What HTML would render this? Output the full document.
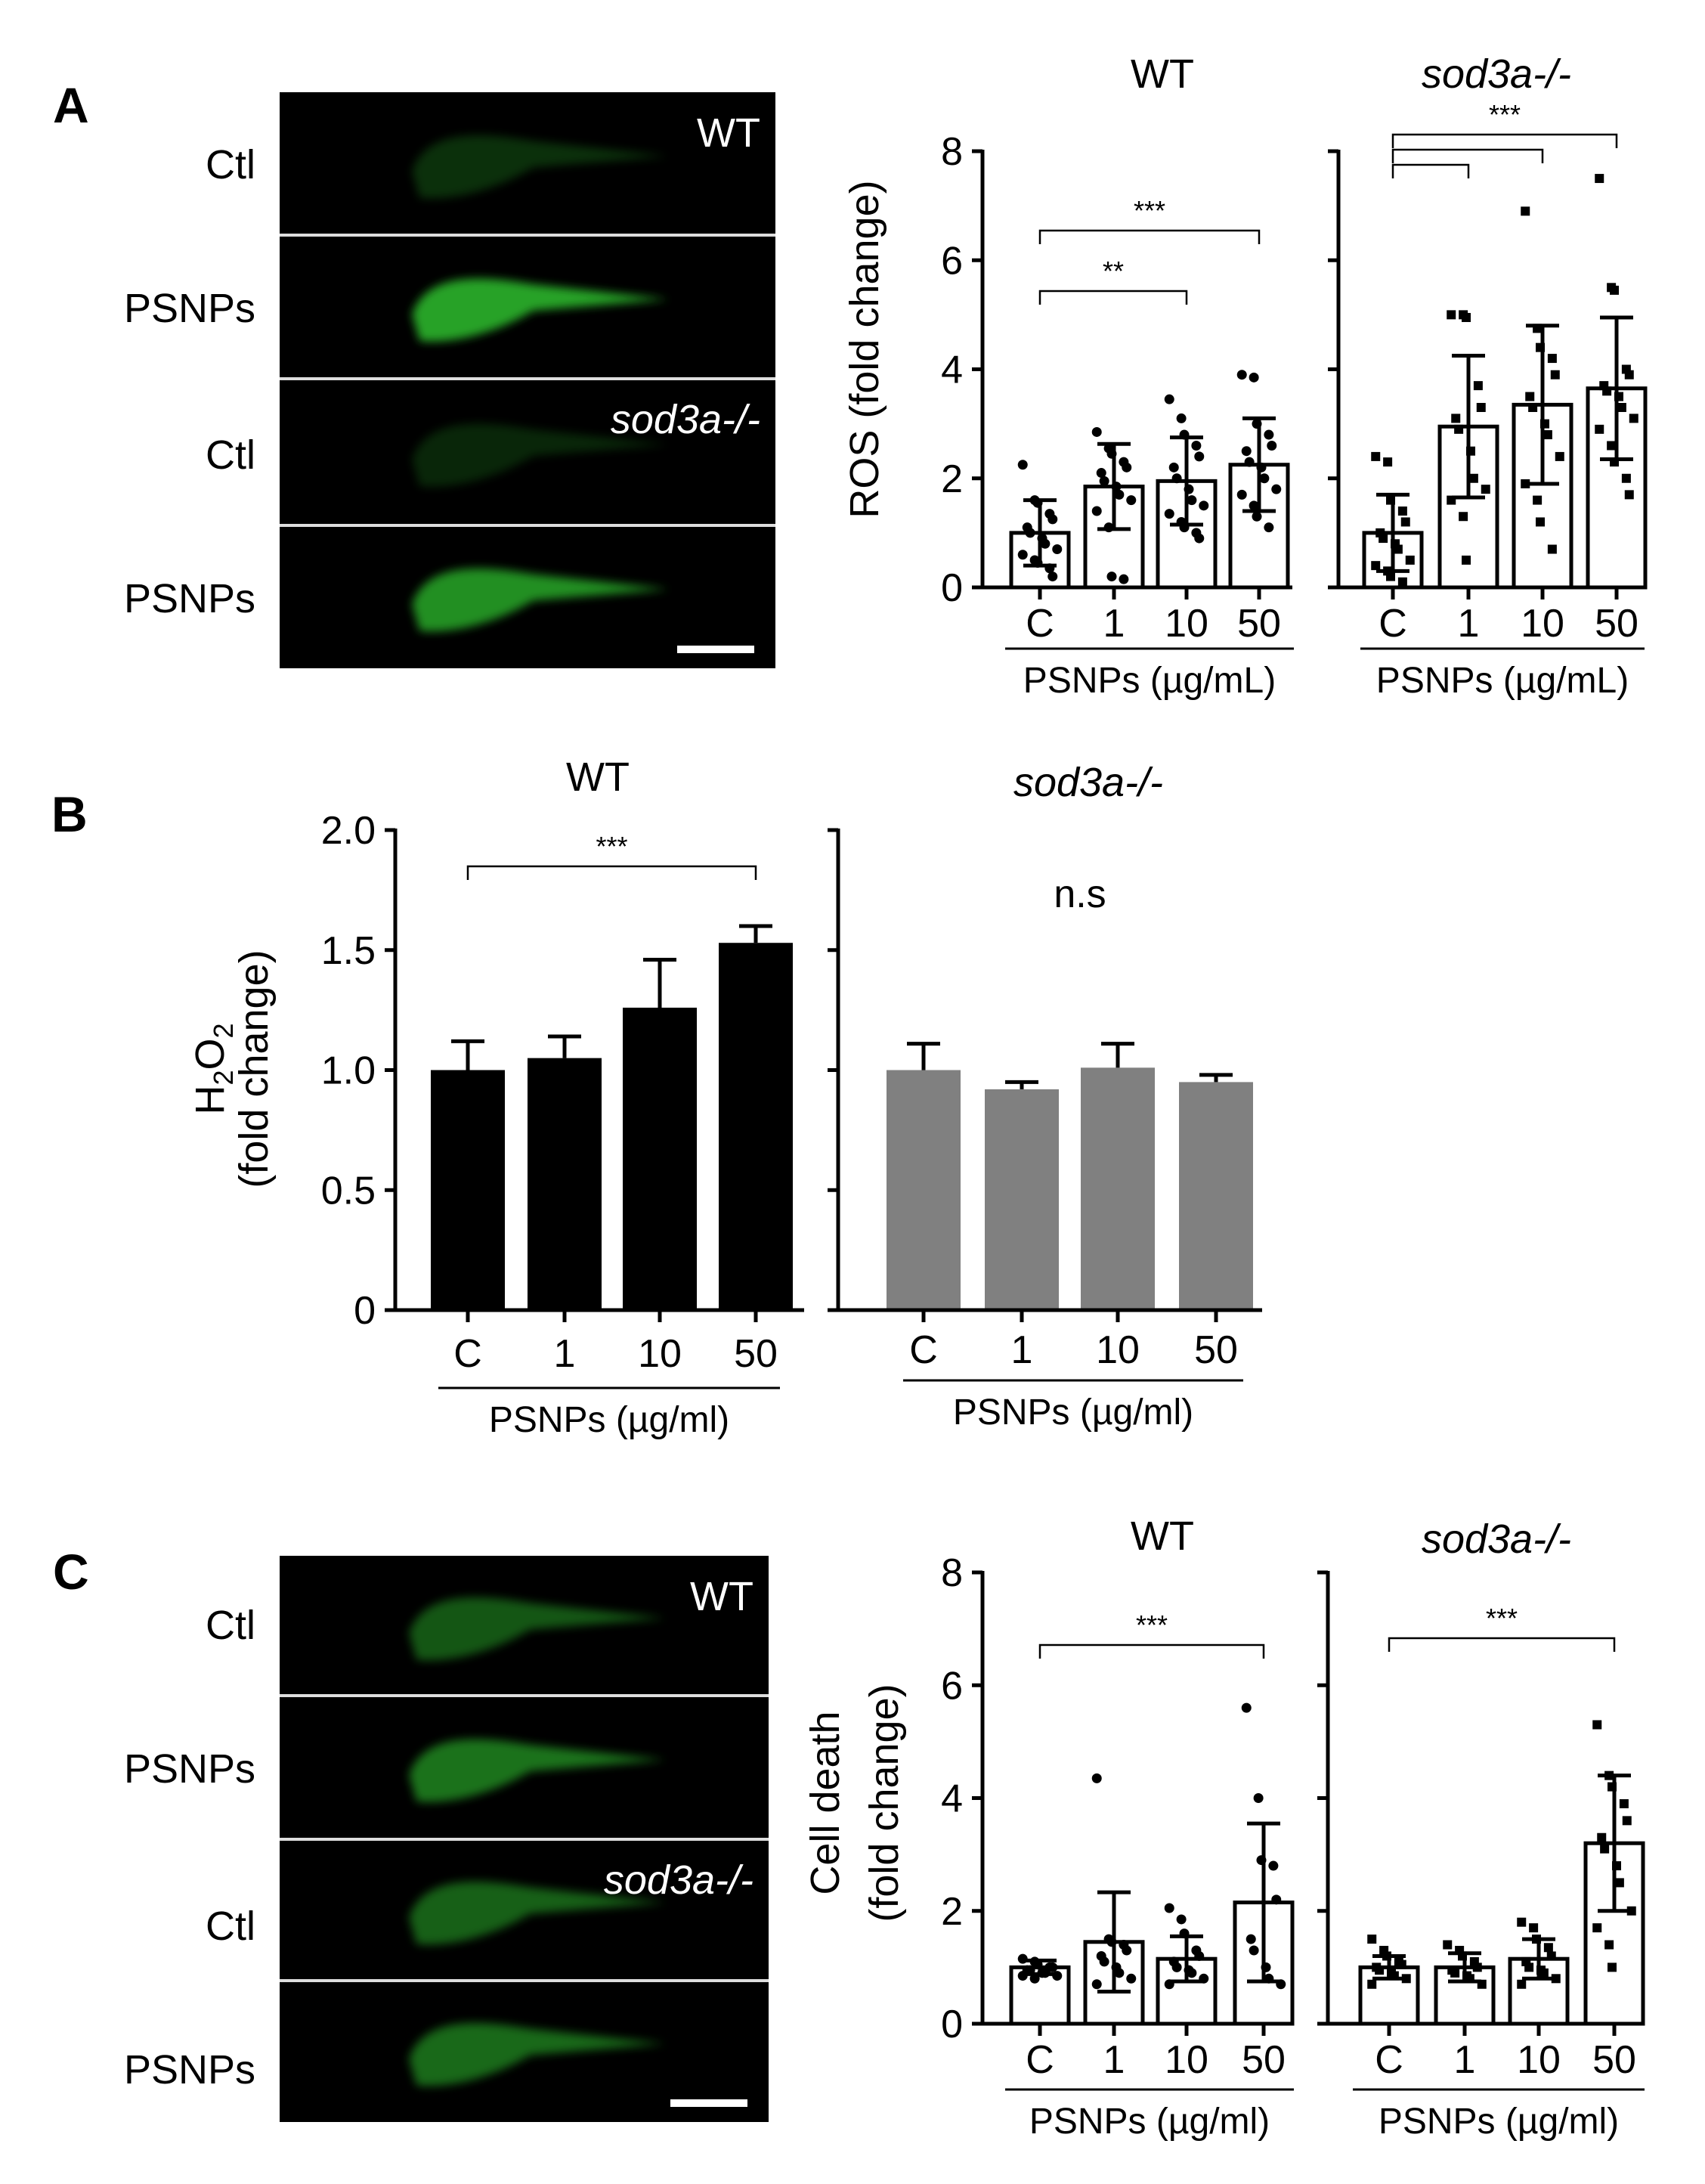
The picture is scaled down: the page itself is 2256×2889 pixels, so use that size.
<!DOCTYPE html>
<html><head><meta charset="utf-8"><style>
html,body{margin:0;padding:0;background:#fff}
svg{display:block}
text{font-family:"Liberation Sans",sans-serif;fill:#000}
</style></head><body>
<svg id="fig" width="2256" height="2889" viewBox="0 0 2256 2889" xmlns="http://www.w3.org/2000/svg">
<defs>
<filter id="blur" x="-20%" y="-50%" width="140%" height="200%"><feGaussianBlur stdDeviation="6"/></filter>
</defs>
<g font-weight="bold" font-size="66">
<text x="70" y="162">A</text>
<text x="68" y="1100">B</text>
<text x="70" y="2102">C</text>
</g>
<g id="imgs"></g>
<g id="charts"></g>
</svg>
<script>
// ===== Data =====
const categories = ["C","1","10","50"];
// Panel A ROS
const rosWTMean = [1.0, 1.85, 1.95, 2.25];
const rosWTSD = [0.6, 0.78, 0.8, 0.85];
const rosKOMean = [1.0, 2.95, 3.35, 3.65];
const rosKOSD = [0.7, 1.3, 1.45, 1.3];
const rosWTPts0 = [2.25,1.6,1.55,1.35,1.25,1.1,1.0,0.9,0.8,0.7,0.6,0.5,0.45,0.35,0.2];
const rosWTPts1 = [2.85,2.55,2.45,2.3,2.2,2.1,1.95,1.85,1.7,1.6,1.4,1.1,0.2,0.15];
const rosWTPts2 = [3.45,3.1,2.8,2.6,2.4,2.2,2.0,1.8,1.6,1.5,1.35,1.2,1.1,1.0,0.9];
const rosWTPts3 = [3.9,3.85,3.0,2.8,2.6,2.5,2.3,2.2,2.0,1.8,1.7,1.5,1.3,1.1];
const rosKOPts0 = [2.4,2.3,1.6,1.4,1.2,1.0,0.9,0.8,0.7,0.5,0.4,0.3,0.2,0.1];
const rosKOPts1 = [5.0,5.0,4.95,3.7,3.3,3.1,2.9,2.5,2.0,1.8,1.6,1.3,0.5];
const rosKOPts2 = [6.9,4.75,4.4,4.2,3.9,3.5,3.3,3.0,2.8,2.4,1.9,1.6,1.2,0.7];
const rosKOPts3 = [7.5,5.5,5.45,4.0,3.9,3.7,3.6,3.5,3.3,3.1,2.9,2.6,2.3,2.0,1.7];
// Panel B H2O2
const h2WTMean = [1.0, 1.05, 1.26, 1.53];
const h2WTSD = [0.12, 0.09, 0.2, 0.07];
const h2KOMean = [1.0, 0.92, 1.01, 0.95];
const h2KOSD = [0.11, 0.03, 0.1, 0.03];
// Panel C Cell death
const cdWTMean = [1.0, 1.45, 1.15, 2.15];
const cdWTSD = [0.12, 0.88, 0.4, 1.4];
const cdKOMean = [1.0, 1.0, 1.15, 3.2];
const cdKOSD = [0.2, 0.25, 0.35, 1.2];
const cdWTPts0 = [1.15,1.1,1.05,1.0,1.0,0.95,0.95,0.9,0.9,0.85,0.85,0.8];
const cdWTPts1 = [4.35,1.5,1.45,1.4,1.3,1.2,1.1,1.0,0.9,0.8,0.7];
const cdWTPts2 = [2.05,1.85,1.6,1.3,1.2,1.1,1.0,0.95,0.9,0.8,0.7];
const cdWTPts3 = [5.6,4.0,2.9,2.8,2.2,1.5,1.3,1.0,0.8,0.7];
const cdKOPts0 = [1.5,1.3,1.2,1.1,1.05,1.0,0.95,0.9,0.85,0.8,0.7];
const cdKOPts1 = [1.4,1.3,1.2,1.1,1.0,0.95,0.9,0.85,0.8,0.7];
const cdKOPts2 = [1.8,1.7,1.5,1.35,1.2,1.1,1.0,0.95,0.9,0.8,0.7];
const cdKOPts3 = [5.3,4.4,4.2,3.9,3.6,3.3,3.1,2.8,2.5,2.0,1.7,1.4,1.0];
const ticks8 = [0,2,4,6,8];
const tickLabels8 = ["0","2","4","6","8"];
const ticks2 = [0,0.5,1,1.5,2];
const tickLabels2 = ["0","0.5","1.0","1.5","2.0"];

const NS="http://www.w3.org/2000/svg";
const root=document.getElementById('charts');
function el(tag,attrs,parent){const e=document.createElementNS(NS,tag);for(const k in attrs)e.setAttribute(k,attrs[k]);(parent||root).appendChild(e);return e;}
function txt(x,y,s,size,parent,anchor,extra){const t=el('text',Object.assign({x:x,y:y,'font-size':size,'text-anchor':anchor||'middle'},extra||{}),parent);t.textContent=s;return t;}

function drawPlot(c){
  const g=el('g',{});
  
  
  const yS=v=>c.y0-(v/c.ymax)*(c.y0-c.yTop);
  const xS=i=>c.xs[i];
  c.mean.forEach((m,i)=>{
    const r=el('rect',{x:xS(i)-c.bw/2,y:yS(m),width:c.bw,height:c.y0-yS(m),fill:c.fill,stroke:c.stroke,'stroke-width':c.sw},g);
    
    
  });
  if(c.pts){c.pts.forEach((arr,i)=>{arr.forEach((v,j)=>{
    const off=((j%5)-2)*c.bw*0.13+((j%2)?3:-3);
    let p;
    if(c.sq) p=el('rect',{x:xS(i)+off-6,y:yS(v)-6,width:12,height:12,fill:'#000'},g);
    else p=el('circle',{cx:xS(i)+off,cy:yS(v),r:6.5,fill:'#000'},g);
    
    
  });});}
  c.mean.forEach((m,i)=>{
    const e=el('g',{stroke:'#000','stroke-width':5},g);
    
    
    const lo=c.upOnly?m:m-c.sd[i];
    el('line',{x1:xS(i),x2:xS(i),y1:yS(lo),y2:yS(m+c.sd[i])},e);
    el('line',{x1:xS(i)-c.cap,x2:xS(i)+c.cap,y1:yS(m+c.sd[i]),y2:yS(m+c.sd[i])},e);
    if(!c.upOnly) el('line',{x1:xS(i)-c.cap,x2:xS(i)+c.cap,y1:yS(lo),y2:yS(lo)},e);
  });
  const ax=el('g',{stroke:'#000','stroke-width':5},g);
  
  
  el('line',{x1:c.ax,x2:c.ax,y1:c.yTop-2,y2:c.y0+2},ax);
  el('line',{x1:c.ax-2,x2:c.xEnd,y1:c.y0,y2:c.y0},ax);
  c.ticks.forEach((t,i)=>{
    el('line',{x1:c.ax-14,x2:c.ax,y1:yS(t),y2:yS(t)},ax);
    if(c.showLabels){const tl=txt(c.ax-26,yS(t)+18,c.tickLabels[i],52,g,'end');
      
      }
  });
  categories.forEach((k,i)=>{
    el('line',{x1:xS(i),x2:xS(i),y1:c.y0,y2:c.y0+16},ax);
    const t=txt(xS(i),c.tickY,k,52,g);
    
    
  });
  el('line',{x1:c.ulX1,x2:c.ulX2,y1:c.ulY,y2:c.ulY,'stroke-width':3},ax);
  const xl=txt((c.ulX1+c.ulX2)/2,c.ulY+58,c.xlabel,48,g);
  
  
  const ti=txt(c.titleX,c.titleY,c.title,54,g,'middle',c.italic?{'font-style':'italic'}:{});
  
  
  (c.brackets||[]).forEach(b=>{
    const bg=el('g',{},g);
    
    
    el('polyline',{points:`${xS(b.a)},${b.y+18} ${xS(b.a)},${b.y} ${xS(b.b)},${b.y} ${xS(b.b)},${b.y+18}`,fill:'none',stroke:'#000','stroke-width':2.5},bg);
    if(b.label) txt((xS(b.a)+xS(b.b))/2,b.y-14,b.label,36,bg);
  });
  return {g,yS};
}
const xsA1=[1376,1474,1570,1666], xsA2=[1843,1943,2041,2139];
drawPlot({name:'ros-wt-chart',key:'ros-wt',mean:rosWTMean,sd:rosWTSD,pts:[rosWTPts0,rosWTPts1,rosWTPts2,rosWTPts3],xs:xsA1,bw:76,cap:22,sw:5,fill:'#fff',stroke:'#000',
  ax:1300,xEnd:1710,y0:777,yTop:200,ymax:8,ticks:ticks8,tickLabels:tickLabels8,showLabels:true,tickY:842,ulX1:1330,ulX2:1712,ulY:858,xlabel:'PSNPs (µg/mL)',title:'WT',titleX:1538,titleY:116,
  brackets:[{a:0,b:2,y:385,label:'**'},{a:0,b:3,y:305,label:'***'}]});
drawPlot({name:'ros-sod3a-chart',key:'ros-sod3a',mean:rosKOMean,sd:rosKOSD,pts:[rosKOPts0,rosKOPts1,rosKOPts2,rosKOPts3],sq:true,xs:xsA2,bw:76,cap:22,sw:5,fill:'#fff',stroke:'#000',
  ax:1771,xEnd:2176,y0:777,yTop:200,ymax:8,ticks:ticks8,tickLabels:tickLabels8,showLabels:false,tickY:842,ulX1:1800,ulX2:2176,ulY:858,xlabel:'PSNPs (µg/mL)',title:'sod3a-/-',titleX:1980,titleY:116,italic:true,
  brackets:[{a:0,b:1,y:218},{a:0,b:2,y:198},{a:0,b:3,y:178,label:'***'}]});
drawPlot({name:'h2o2-wt-chart',key:'h2o2-wt',mean:h2WTMean,sd:h2WTSD,upOnly:true,xs:[619,747,873,1000],bw:98,cap:22,sw:0,fill:'#000',stroke:'#000',
  ax:523,xEnd:1064,y0:1733,yTop:1098,ymax:2,ticks:ticks2,tickLabels:tickLabels2,showLabels:true,tickY:1808,ulX1:580,ulX2:1032,ulY:1836,xlabel:'PSNPs (µg/ml)',title:'WT',titleX:791,titleY:1046,
  brackets:[{a:0,b:3,y:1146,label:'***'}]});
drawPlot({name:'h2o2-sod3a-chart',key:'h2o2-sod3a',mean:h2KOMean,sd:h2KOSD,upOnly:true,xs:[1222,1352,1479,1609],bw:98,cap:22,sw:0,fill:'#808080',stroke:'#808080',
  ax:1109,xEnd:1670,y0:1733,yTop:1098,ymax:2,ticks:ticks2,tickLabels:tickLabels2,showLabels:false,tickY:1803,ulX1:1195,ulX2:1645,ulY:1826,xlabel:'PSNPs (µg/ml)',title:'sod3a-/-',titleX:1440,titleY:1053,italic:true});
drawPlot({name:'cell-death-wt-chart',key:'cd-wt',mean:cdWTMean,sd:cdWTSD,pts:[cdWTPts0,cdWTPts1,cdWTPts2,cdWTPts3],xs:[1376,1474,1570,1672],bw:76,cap:22,sw:5,fill:'#fff',stroke:'#000',
  ax:1300,xEnd:1712,y0:2677,yTop:2080,ymax:8,ticks:ticks8,tickLabels:tickLabels8,showLabels:true,tickY:2742,ulX1:1330,ulX2:1712,ulY:2764,xlabel:'PSNPs (µg/ml)',title:'WT',titleX:1538,titleY:2050,
  brackets:[{a:0,b:3,y:2176,label:'***'}]});
drawPlot({name:'cell-death-sod3a-chart',key:'cd-sod3a',mean:cdKOMean,sd:cdKOSD,pts:[cdKOPts0,cdKOPts1,cdKOPts2,cdKOPts3],sq:true,xs:[1838,1938,2036,2136],bw:76,cap:22,sw:5,fill:'#fff',stroke:'#000',
  ax:1757,xEnd:2176,y0:2677,yTop:2080,ymax:8,ticks:ticks8,tickLabels:tickLabels8,showLabels:false,tickY:2742,ulX1:1790,ulX2:2176,ulY:2764,xlabel:'PSNPs (µg/ml)',title:'sod3a-/-',titleX:1980,titleY:2054,italic:true,
  brackets:[{a:0,b:3,y:2167,label:'***'}]});
let t;
t=txt(0,0,'ROS (fold change)',54,root,'middle',{transform:'translate(1162,462) rotate(-90)'});


t=el('text',{transform:'translate(296,1414) rotate(-90)','font-size':54,'text-anchor':'middle'});
t.innerHTML='H<tspan font-size="36" dy="12">2</tspan><tspan dy="-12">O</tspan><tspan font-size="36" dy="12">2</tspan>';


t=txt(0,0,'(fold change)',54,root,'middle',{transform:'translate(354,1414) rotate(-90)'});


t=txt(0,0,'Cell death',54,root,'middle',{transform:'translate(1110,2385) rotate(-90)'});


t=txt(0,0,'(fold change)',54,root,'middle',{transform:'translate(1188,2385) rotate(-90)'});


t=txt(1429,1200,'n.s',52,root);



const ig=document.getElementById('imgs');
function imagePanel(x,y,w,h,seps,labels,bright,name,rowYs){
  const g=el('g',{},ig);
  
  
  el('rect',{x:x,y:y,width:w,height:h,fill:'#000'},g);
  const rows=[y].concat(seps).concat([y+h]);
  for(let i=0;i<4;i++){
    const cy=(rows[i]+rows[i+1])/2, cx=x+w*0.45;
    const f=el('g',{filter:'url(#blur)',opacity:bright[i]},g);
    el('path',{d:`M${cx-120},${cy+10} C${cx-100},${cy-50} ${cx-20},${cy-40} ${cx+40},${cy-30} L${cx+220},${cy-10} L${cx+40},${cy+5} C${cx},${cy+30} ${cx-60},${cy+50} ${cx-110},${cy+45} Z`,fill:'#2fbf2f'},f);
    const lt=txt(x-32,rowYs[i],labels[i],54,g,'end');
    
    
  }
  seps.forEach(s=>el('line',{x1:x,x2:x+w,y1:s,y2:s,stroke:'#ddd','stroke-width':4},g));
  el('line',{x1:x+w-130,x2:x+w-28,y1:y+h-25,y2:y+h-25,stroke:'#fff','stroke-width':10},g);
  const w1=txt(x+w-20,y+72,'WT',54,g,'end');w1.style.fill='#fff';
  
  
  const w2=txt(x+w-20,seps[1]+72,'sod3a-/-',54,g,'end',{'font-style':'italic'});w2.style.fill='#fff';
  
  
}
imagePanel(370,122,656,762,[311,501,695],['Ctl','PSNPs','Ctl','PSNPs'],[0.25,0.85,0.2,0.75],'ros-images',[236,426,620,810]);
imagePanel(370,2058,647,749,[2243,2433,2620],['Ctl','PSNPs','Ctl','PSNPs'],[0.45,0.6,0.5,0.55],'cell-death-images',[2168,2358,2566,2756]);
</script>
</body></html>
